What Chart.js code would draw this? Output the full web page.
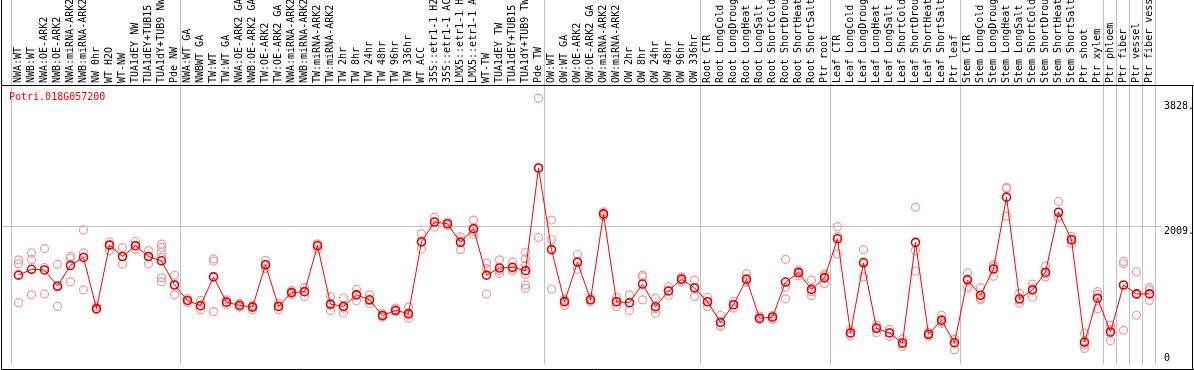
<!DOCTYPE html>
<html>
<head>
<meta charset="utf-8">
<script src="https://cdn.jsdelivr.net/npm/chart.js@4.4.1/dist/chart.umd.min.js"></script>
<style>
  html, body { margin: 0; padding: 0; background: #fff; }
  #wrap { width: 1194px; height: 370px; }
</style>
</head>
<body>
<div id="wrap"><canvas id="chart" width="1194" height="370"></canvas></div>
<script>
const geneId = 'Potri.018G057200';

const categories = [
  'NWA:WT', 'NWB:WT', 'NWA:OE-ARK2', 'NWB:OE-ARK2', 'NWA:miRNA-ARK2', 'NWB:miRNA-ARK2',
  'NW 0hr', 'WT H2O', 'WT-NW', 'TUA1dEY NW', 'TUA1dEY+TUB15', 'TUA1dY+TUB9 NW', 'Pde NW',
  'NWA:WT GA', 'NWBWT GA', 'TW:WT', 'TW:WT GA', 'NWA:OE-ARK2 GA', 'NWB:OE-ARK2 GA',
  'TW:OE-ARK2', 'TW:OE-ARK2 GA', 'NWA:miRNA-ARK2', 'NWB:miRNA-ARK2', 'TW:miRNA-ARK2', 'TW:miRNA-ARK2',
  'TW 2hr', 'TW 8hr', 'TW 24hr', 'TW 48hr', 'TW 96hr', 'TW 336hr', 'WT ACC',
  '35S::etr1-1 H2', '35S::etr1-1 AC', 'LMX5::etr1-1 H', 'LMX5::etr1-1 A',
  'WT-TW', 'TUA1dEY TW', 'TUA1dEY+TUB15', 'TUA1dY+TUB9 TW', 'Pde TW',
  'OW:WT', 'OW:WT GA', 'OW:OE-ARK2', 'OW:OE-ARK2 GA', 'OW:miRNA-ARK2', 'OW:miRNA-ARK2',
  'OW 2hr', 'OW 8hr', 'OW 24hr', 'OW 48hr', 'OW 96hr', 'OW 336hr',
  'Root CTR', 'Root LongCold', 'Root LongDroug', 'Root LongHeat', 'Root LongSalt',
  'Root ShortCold', 'Root ShortDrou', 'Root ShortHeat', 'Root ShortSalt', 'Ptr root',
  'Leaf CTR', 'Leaf LongCold', 'Leaf LongDroug', 'Leaf LongHeat', 'Leaf LongSalt',
  'Leaf ShortCold', 'Leaf ShortDrou', 'Leaf ShortHeat', 'Leaf ShortSalt', 'Ptr leaf',
  'Stem CTR', 'Stem LongCold', 'Stem LongDroug', 'Stem LongHeat', 'Stem LongSalt',
  'Stem ShortCold', 'Stem ShortDrou', 'Stem ShortHeat', 'Stem ShortSalt',
  'Ptr shoot', 'Ptr xylem', 'Ptr phloem', 'Ptr fiber', 'Ptr vessel', 'Ptr fiber vess'
];

// mean expression per sample
const means = [
  1291, 1377, 1367, 1132, 1434, 1550, 801, 1731, 1564, 1722, 1564, 1501, 1147,
  921, 845, 1266, 896, 849, 824, 1443, 834, 1036, 1050, 1722, 868, 834, 1003, 931,
  701, 777, 729, 1780, 2068, 2043, 1770, 1971, 1291, 1396, 1406, 1357, 2859,
  1665, 902, 1482, 931, 2187, 902, 888, 1161, 830, 1060, 1233, 1104,
  902, 600, 859, 1233, 662, 676, 1190, 1328, 1083, 1252,
  1823, 446, 1472, 514, 446, 298, 1770, 427, 633, 302,
  1223, 997, 1381, 2432, 945, 1075, 1334, 2211, 1809, 312, 954,
  460, 1147, 1017, 1017
];

// individual replicates per sample
const replicates = [
  [1515, 1458, 888], [1616, 1521, 1003], [1679, 1403, 1017], [1449, 1114, 834],
  [1568, 1540, 1194], [1952, 1616, 1075], [834, 787, 791], [1780, 1731, 1650],
  [1693, 1564, 1453], [1784, 1722, 1669], [1650, 1564, 1453],
  [1745, 1698, 1626, 1554, 1252, 1194], [1291, 1151, 1003],
  [950, 921, 892], [921, 845, 787], [1529, 1496, 758], [931, 896, 859],
  [878, 849, 820], [849, 834, 787], [1506, 1439, 1386], [882, 834, 787],
  [1065, 1036, 1007], [1112, 1050, 978], [1745, 1745, 1673], [978, 852, 773],
  [954, 810, 738], [1083, 1007, 917], [1003, 917, 873], [729, 691, 681],
  [810, 763, 758], [824, 705, 658], [1899, 1765, 1673], [2139, 2068, 1996],
  [2072, 2043, 2014], [1852, 1794, 1665], [2096, 1928, 1889], [1468, 1386, 1017],
  [1515, 1358, 1314], [1482, 1381, 1352],
  [1626, 1529, 1434, 1305, 1147, 1098], [3880, 2855, 1842],
  [2096, 1809, 1089], [935, 921, 849], [1593, 1476, 1377], [964, 931, 898],
  [2216, 2187, 2158], [968, 902, 834], [1003, 888, 773], [1291, 1266, 931],
  [954, 801, 734], [1122, 1060, 997], [1266, 1233, 1199], [1219, 1114, 978],
  [964, 906, 834], [705, 547, 547], [906, 859, 810], [1314, 1194, 1190],
  [691, 652, 643], [701, 686, 643], [1521, 1112, 945], [1363, 1342, 1281],
  [1219, 1050, 993], [1305, 1281, 1170],
  [2000, 1856, 1601], [489, 446, 403], [1665, 1486, 1266], [561, 528, 450],
  [499, 446, 393], [355, 288, 249], [2283, 1650, 1352], [456, 427, 399],
  [705, 609, 586], [355, 350, 201],
  [1324, 1237, 1108], [1108, 952, 931], [1447, 1420, 1276], [2576, 2561, 2154],
  [1026, 928, 882], [1161, 1093, 968], [1424, 1309, 1266], [2370, 2135, 2129],
  [1856, 1809, 1760], [442, 273, 220], [1050, 1010, 801],
  [557, 494, 331], [1492, 1458, 485], [1338, 1009, 705], [1108, 1075, 921]
];

// first sample index of each experiment block
const groupStarts = [0, 13, 41, 53, 63, 73, 84, 85, 86, 87, 88];

const yTicks = [0, 2009, 3828];
const yTickText = ['0', '2009.', '3828.'];
const gridValues = [2009];

const monoFont = '10px "DejaVu Sans Mono", "Liberation Mono", monospace';

const maxReps = Math.max(...replicates.map(r => r.length));
const repSets = [];
for (let k = 0; k < maxReps; k++) {
  repSets.push({
    label: 'rep' + (k + 1),
    data: replicates.map(r => (r[k] === undefined ? null : r[k])),
    showLine: false,
    pointRadius: 4,
    pointBorderWidth: 1.2,
    pointBorderColor: '#ef9a9a',
    pointBackgroundColor: 'rgba(255,255,255,0)',
    order: 2
  });
}

const framePlugin = {
  id: 'frame',
  beforeDatasetsDraw(chart) {
    const c = chart.ctx;
    const xs = chart.scales.x, ys = chart.scales.y;
    const step = xs.getPixelForValue(1) - xs.getPixelForValue(0);
    c.save();
    c.strokeStyle = '#c0c0c0';
    c.lineWidth = 1;
    // block separators
    groupStarts.forEach(i => {
      const px = Math.round(xs.getPixelForValue(0) + step * i - 8) + 0.5;
      c.beginPath();
      c.moveTo(px, 0);
      c.lineTo(px, chart.chartArea.bottom);
      c.stroke();
    });
    // horizontal grid
    gridValues.forEach(v => {
      const py = Math.round(ys.getPixelForValue(v)) + 0.5;
      c.beginPath();
      c.moveTo(2, py);
      c.lineTo(1161, py);
      c.stroke();
    });
    c.restore();
  },
  afterDraw(chart) {
    const c = chart.ctx;
    const ys = chart.scales.y;
    const area = chart.chartArea;
    c.save();
    c.strokeStyle = '#000';
    c.lineWidth = 1;
    c.beginPath();
    c.moveTo(1.5, 0); c.lineTo(1.5, 370);
    c.moveTo(1192.5, 85); c.lineTo(1192.5, 370);
    c.moveTo(1, 85.5); c.lineTo(1194, 85.5);
    c.moveTo(1, 369.5); c.lineTo(1194, 369.5);
    c.stroke();

    c.font = monoFont;
    c.textBaseline = 'top';
    c.textAlign = 'left';
    c.fillStyle = '#000';
    yTicks.forEach((v, i) => {
      const py = Math.min(ys.getPixelForValue(v), area.bottom - 11);
      c.fillText(yTickText[i], 1164, py);
    });
    c.fillStyle = '#ff0000';
    c.fillText(geneId, 9, 92);
    c.restore();
  }
};

new Chart(document.getElementById('chart'), {
  type: 'line',
  data: {
    labels: categories,
    datasets: [
      {
        label: 'mean',
        data: means,
        borderColor: '#ff0000',
        borderWidth: 1,
        tension: 0,
        pointRadius: 4,
        pointBorderWidth: 1.6,
        pointBorderColor: '#e00000',
        pointBackgroundColor: 'rgba(255,255,255,0)',
        order: 1
      },
      ...repSets
    ]
  },
  options: {
    responsive: false,
    animation: false,
    devicePixelRatio: 1,
    layout: { padding: { left: 12, right: 0, top: 0, bottom: 1 } },
    plugins: { legend: { display: false }, tooltip: { enabled: false } },
    scales: {
      x: {
        position: 'top',
        offset: true,
        grid: { display: false, drawTicks: false },
        border: { display: false },
        ticks: {
          autoSkip: false,
          minRotation: 90,
          maxRotation: 90,
          padding: 2,
          labelOffset: 12,
          color: '#000',
          font: { family: '"DejaVu Sans Mono"', size: 10 }
        },
        afterFit(s) { s.height = 85; s.paddingLeft = 0; s.paddingRight = 0; }
      },
      y: {
        position: 'right',
        min: -14,
        max: 4072,
        grid: { display: false },
        border: { display: false },
        ticks: { display: false },
        afterFit(s) { s.width = 38; }
      }
    }
  },
  plugins: [framePlugin]
});
</script>
</body>
</html>
